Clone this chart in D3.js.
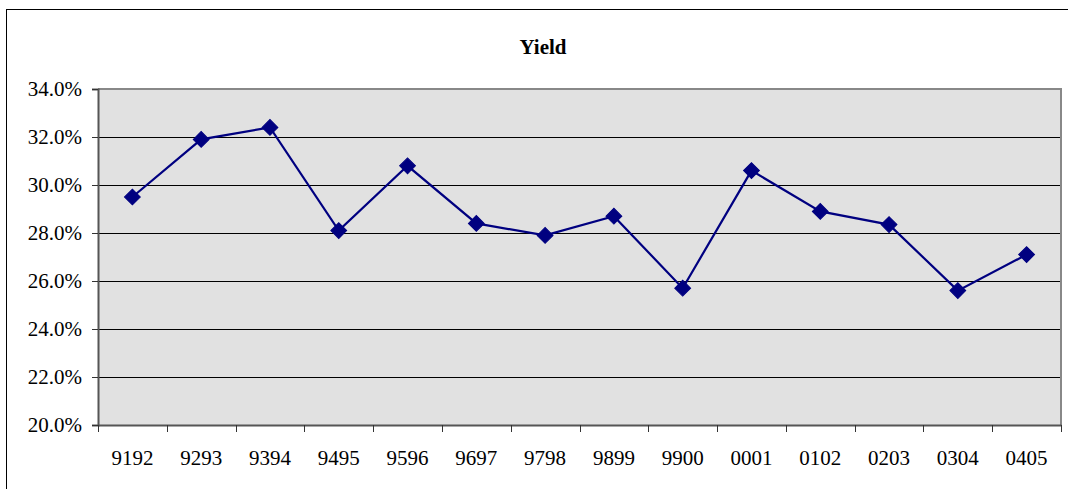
<!DOCTYPE html>
<html>
<head>
<meta charset="utf-8">
<script src="https://cdn.jsdelivr.net/npm/d3@7"></script>
<style>
  html, body { margin: 0; padding: 0; background: #fff; }
  svg { display: block; }
</style>
</head>
<body>
<svg id="chart" width="1068" height="489"></svg>
<script>
const categories = ["9192","9293","9394","9495","9596","9697","9798","9899","9900","0001","0102","0203","0304","0405"];
const yieldValues = [29.5, 31.9, 32.4, 28.1, 30.8, 28.4, 27.9, 28.7, 25.7, 30.6, 28.9, 28.35, 25.6, 27.1];
const yTicks = [20, 22, 24, 26, 28, 30, 32, 34];
const title = "Yield";

const svg = d3.select("#chart");
const plot = { left: 98, right: 1061, top: 89, bottom: 425 };
const font = "'Liberation Serif', 'Times New Roman', serif";
const fs = 21;

// outer chart border
svg.append("rect").attr("x", 6.5).attr("y", 9.5).attr("width", 1100).attr("height", 600)
  .attr("fill", "#fff").attr("stroke", "#000").attr("stroke-width", 1);

const x = d3.scaleBand().domain(categories).range([plot.left, plot.right]);
const y = d3.scaleLinear().domain([20, 34]).range([plot.bottom, plot.top]);

// plot area
svg.append("rect").attr("x", plot.left).attr("y", plot.top)
  .attr("width", plot.right - plot.left).attr("height", plot.bottom - plot.top)
  .attr("fill", "#e1e1e1");

// gridlines
svg.append("g").selectAll("line").data(yTicks.filter(d => d > 20 && d < 34)).join("line")
  .attr("x1", plot.left).attr("x2", plot.right)
  .attr("y1", d => Math.round(y(d)) + 0.5).attr("y2", d => Math.round(y(d)) + 0.5)
  .attr("stroke", "#000").attr("stroke-width", 1);

// plot border top/right (gray)
svg.append("path")
  .attr("d", `M${plot.left},${plot.top} H${plot.right} V${plot.bottom}`)
  .attr("fill", "none").attr("stroke", "#888").attr("stroke-width", 2);

// y axis
const yAxis = d3.axisLeft(y).tickValues(yTicks).tickSize(6).tickPadding(10)
  .tickFormat(d => d3.format(".1f")(d) + "%");
const gy = svg.append("g").attr("transform", `translate(${plot.left},0)`).call(yAxis);
gy.select(".domain").attr("stroke", "#555").attr("stroke-width", 2);
gy.selectAll(".tick line").attr("stroke", "#333");
gy.selectAll(".tick text").attr("font-family", font).attr("font-size", fs).attr("fill", "#000");

// x axis
const xAxis = d3.axisBottom(x).tickSize(0).tickPadding(25);
const gx = svg.append("g").attr("transform", `translate(0,${plot.bottom})`).call(xAxis);
gx.select(".domain").attr("stroke", "#555").attr("stroke-width", 2);
gx.selectAll(".tick text").attr("font-family", font).attr("font-size", fs).attr("fill", "#000");

// x tick marks at category boundaries
const bounds = categories.map(c => x(c)).concat([x(categories[categories.length - 1]) + x.bandwidth()]);
svg.append("g").selectAll("line").data(bounds).join("line")
  .attr("x1", d => Math.round(d) + 0.5).attr("x2", d => Math.round(d) + 0.5)
  .attr("y1", plot.bottom).attr("y2", plot.bottom + 7)
  .attr("stroke", "#333").attr("stroke-width", 1);

// line
const cx = d => x(d) + x.bandwidth() / 2;
const line = d3.line().x((d, i) => cx(categories[i])).y(d => y(d));
svg.append("path").datum(yieldValues).attr("d", line)
  .attr("fill", "none").attr("stroke", "#000080").attr("stroke-width", 2.2);

// markers
svg.append("g").selectAll("path").data(yieldValues).join("path")
  .attr("d", d3.symbol().type(d3.symbolSquare).size(125))
  .attr("transform", (d, i) => `translate(${cx(categories[i])},${y(d)}) rotate(45)`)
  .attr("fill", "#000080").attr("stroke", "#000080").attr("stroke-width", 1);

// title
svg.append("text").attr("x", 543).attr("y", 54).attr("text-anchor", "middle")
  .attr("font-family", font).attr("font-size", fs).attr("font-weight", "bold")
  .text(title);
</script>
</body>
</html>
